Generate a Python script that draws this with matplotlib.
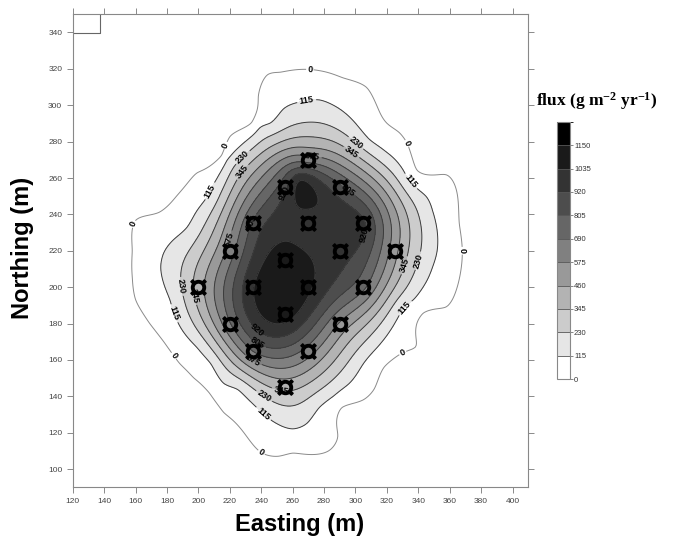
import numpy as np
import matplotlib
matplotlib.use('Agg')
import matplotlib.pyplot as plt
from matplotlib.colors import ListedColormap, BoundaryNorm

plt.rcParams['mathtext.fontset'] = 'custom'
plt.rcParams['mathtext.rm'] = 'Liberation Serif:bold'
plt.rcParams['mathtext.default'] = 'rm'

# measurement points (Easting, Northing, flux g m-2 yr-1)
pts_x = [270, 255, 290, 235, 270, 305, 220, 255, 290, 325,
         200, 235, 270, 305, 255, 220, 290, 235, 270, 255]
pts_y = [270, 255, 255, 235, 235, 235, 220, 215, 220, 220,
         200, 200, 200, 200, 185, 180, 180, 165, 165, 145]
pts_flux = [630, 880, 830, 830, 980, 940, 620, 1090, 960, 500,
            400, 1030, 1060, 720, 1090, 680, 560, 700, 640, 380]

# local high read between the two northern points
spot_x, spot_y, spot_flux = [265], [258], [1060]

# traced 0 contour
zero_x = [252, 277, 292, 307, 314, 320, 328, 333, 339, 358, 365, 366, 368, 364,
          358, 343, 339, 339, 328, 318, 312, 305, 291, 289, 283, 273, 260, 251,
          240, 229, 216, 207, 197, 188, 178, 169, 160, 158, 158, 160, 175, 186,
          199, 215, 220, 234, 238, 244]
zero_y = [318, 319, 315, 310, 299, 290, 285, 279, 264, 262, 250, 235, 220, 198,
          189, 186, 180, 167, 163, 156, 144, 138, 134, 118, 110, 108, 109, 107,
          109, 120, 131, 142, 150, 158, 170, 180, 193, 205, 220, 237, 241, 250,
          263, 272, 283, 290, 305, 317]

# traced 115 contour
c115_x = [246, 254, 266, 277, 288, 298, 309, 320, 330, 337, 345, 349, 352, 352,
          349, 343, 337, 331, 322, 314, 305, 296, 286, 277, 269, 260, 250, 237,
          225, 216, 208, 199, 190, 182, 176, 178, 184, 193, 199, 206, 212, 218,
          226, 239]
c115_y = [290, 298, 302, 303, 299, 292, 281, 274, 265, 256, 250, 242, 231, 220,
          211, 200, 193, 189, 176, 167, 158, 147, 140, 134, 125, 122, 125, 134,
          144, 147, 158, 167, 176, 193, 211, 219, 226, 233, 242, 250, 260, 270,
          277, 288]

levels = [0, 115, 230, 345, 460, 575, 690, 805, 920, 1035, 1150]
fill_levels = levels + [1265]
grays = ['#ffffff', '#e6e6e6', '#cccccc', '#b3b3b3', '#999999', '#808080',
         '#666666', '#4d4d4d', '#333333', '#1a1a1a', '#000000']

# where the contour labels sit
label_spots = {
    0: [(271, 319), (217, 278), (161, 234), (184, 162), (240, 109),
        (333, 279), (368, 220), (330, 164)],
    115: [(269, 302), (207, 253), (186, 186), (242, 131), (335, 258), (331, 189)],
    230: [(234, 266), (186, 200), (241, 139), (301, 280), (342, 214)],
    345: [(233, 260), (195, 195), (252, 140), (298, 275), (335, 211)],
    575: [(273, 278), (212, 228), (235, 160)],
    805: [(297, 255), (233, 236), (238, 170)],
    920: [(312, 227), (240, 179), (254, 252)],
}

corner_box_x = [120, 137.5, 137.5]
corner_box_y = [339.5, 339.5, 350]

# thin plate spline surface through the read values
cx = np.array(pts_x + spot_x + zero_x + c115_x, float) / 100.0
cy = np.array(pts_y + spot_y + zero_y + c115_y, float) / 100.0
cz = np.array(pts_flux + spot_flux + [0] * len(zero_x) + [115] * len(c115_x), float)


def tps_kernel(r):
    with np.errstate(divide='ignore', invalid='ignore'):
        k = r ** 2 * np.log(r)
    return np.nan_to_num(k)


n = len(cx)
r = np.hypot(cx[:, None] - cx[None, :], cy[:, None] - cy[None, :])
K = tps_kernel(r) + 1e-3 * np.eye(n)
P = np.column_stack([np.ones(n), cx, cy])
A = np.zeros((n + 3, n + 3))
A[:n, :n] = K
A[:n, n:] = P
A[n:, :n] = P.T
b = np.concatenate([cz, np.zeros(3)])
sol = np.linalg.solve(A, b)
w, a = sol[:n], sol[n:]

gx = np.linspace(120, 410, 291)
gy = np.linspace(90, 350, 261)
GX, GY = np.meshgrid(gx, gy)
qx, qy = GX.ravel() / 100.0, GY.ravel() / 100.0
rq = np.hypot(qx[:, None] - cx[None, :], qy[:, None] - cy[None, :])
Z = (tps_kernel(rq) @ w + a[0] + a[1] * qx + a[2] * qy).reshape(GX.shape)

fig = plt.figure(figsize=(6.73, 5.4), dpi=100)
ax = fig.add_axes([0.108, 0.0976, 0.677, 0.876])

cmap = ListedColormap(grays)
norm = BoundaryNorm(fill_levels, cmap.N)
cf = ax.contourf(GX, GY, Z, levels=fill_levels, cmap=cmap, norm=norm)
for lev in levels[:-1]:
    col = '#8a8a8a' if lev == 0 else '#3c3c3c'
    cs = ax.contour(GX, GY, Z, levels=[lev], colors=col, linewidths=0.7)
    if lev in label_spots:
        txts = ax.clabel(cs, fmt='%d', fontsize=6.5, inline=True,
                         inline_spacing=1, manual=label_spots[lev], colors='black')
        for t in txts:
            t.set_fontweight('bold')
            t.set_family('Liberation Sans')

ax.plot(pts_x, pts_y, linestyle='none', marker='$\u00a4$', markersize=11,
        color='black', markeredgewidth=1.0)
ax.plot(corner_box_x, corner_box_y, color='#666666', linewidth=0.8)

ax.set_xlim(120, 410)
ax.set_ylim(90, 350)
ax.set_xticks(range(120, 401, 20))
ax.set_yticks(range(100, 341, 20))
ax.tick_params(direction='out', length=4, width=0.6, colors='#777777',
               labelcolor='#444444', labelsize=6, top=True, right=True)
for s in ax.spines.values():
    s.set_color('#888888')
    s.set_linewidth(0.8)
for lab in ax.get_xticklabels() + ax.get_yticklabels():
    lab.set_family('Liberation Sans')

fig.text(0.445, 0.028, 'Easting (m)', ha='center', va='center', fontsize=17,
         fontweight='bold', family='Liberation Sans')
fig.text(0.033, 0.54, 'Northing (m)', ha='center', va='center', fontsize=17,
         fontweight='bold', family='Liberation Sans', rotation=90)

cax = fig.add_axes([0.827, 0.298, 0.0198, 0.4765])
cb = fig.colorbar(cf, cax=cax, ticks=levels, drawedges=True)
cb.outline.set_edgecolor('#888888')
cb.outline.set_linewidth(0.8)
cb.dividers.set_color('#555555')
cb.dividers.set_linewidth(0.6)
cax.tick_params(length=2, width=0.5, labelsize=5.5, labelcolor='#333333',
                colors='#555555', pad=1)
for lab in cax.get_yticklabels():
    lab.set_family('Liberation Sans')
fig.text(0.797, 0.812, 'flux (g m$^{-2}$ yr$^{-1}$)', ha='left', va='center',
         fontsize=12.5, fontweight='bold', family='Liberation Serif')

fig.savefig('out.png', dpi=100)
